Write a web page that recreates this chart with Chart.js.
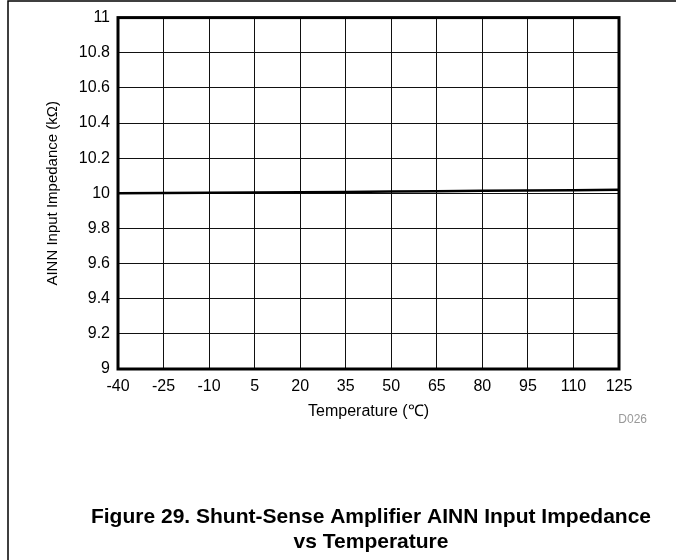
<!DOCTYPE html>
<html>
<head>
<meta charset="utf-8">
<script src="https://cdn.jsdelivr.net/npm/chart.js@4.4.1/dist/chart.umd.min.js"></script>
<style>
html,body{margin:0;padding:0;background:#fff}
#wrap{width:676px;height:560px;position:relative}
</style>
</head>
<body>
<div id="wrap"><canvas id="grafico" width="676" height="560"></canvas></div>
<script>
// temperatura (C) e impedancia (kOhm)
let temperaturas = [-40, -25, -10, 5, 20, 35, 50, 65, 80, 95, 110, 125]
let impedancias = [10.000, 10.001, 10.003, 10.004, 10.006, 10.008, 10.010, 10.012, 10.014, 10.016, 10.018, 10.020]
let ticksY = [9, 9.2, 9.4, 9.6, 9.8, 10, 10.2, 10.4, 10.6, 10.8, 11]
let ticksX = [-40, -25, -10, 5, 20, 35, 50, 65, 80, 95, 110, 125]

let fonte = "'Liberation Sans', Arial, sans-serif"

let pontos = temperaturas.map((t, i) => ({x: t, y: impedancias[i]}))

let moldura = {
  id: "moldura",
  afterDraw(chart){
    let ctx = chart.ctx
    let a = chart.chartArea
    ctx.save()
    // quadro da area do grafico
    ctx.strokeStyle = "#000"
    ctx.lineWidth = 3
    ctx.strokeRect(a.left, a.top, a.right - a.left, a.bottom - a.top)
    // borda da figura
    ctx.lineWidth = 1.5
    ctx.beginPath()
    ctx.moveTo(8, 560)
    ctx.lineTo(8, 1)
    ctx.lineTo(676, 1)
    ctx.stroke()
    // codigo da figura
    ctx.fillStyle = "#999"
    ctx.font = "12px " + fonte
    ctx.textAlign = "right"
    ctx.textBaseline = "middle"
    ctx.fillText("D026", 647, 420)
    // legenda
    ctx.fillStyle = "#000"
    ctx.font = "bold 21px " + fonte
    ctx.textAlign = "center"
    ctx.fillText("Figure 29. Shunt-Sense Amplifier AINN Input Impedance", 371, 517)
    ctx.fillText("vs Temperature", 371, 542)
    ctx.restore()
  }
}

new Chart(document.getElementById("grafico"), {
  type: "line",
  data: {
    datasets: [{
      label: "AINN",
      data: pontos,
      borderColor: "#000",
      borderWidth: 2.5,
      pointRadius: 0,
      tension: 0
    }]
  },
  options: {
    responsive: false,
    animation: false,
    layout: {padding: {left: 0, top: 15.5, right: 57, bottom: 131}},
    plugins: {legend: {display: false}, tooltip: {enabled: false}},
    scales: {
      x: {
        type: "linear",
        min: -40,
        max: 125,
        afterFit(axis){ axis.height = 60 },
        afterBuildTicks(axis){ axis.ticks = ticksX.map(v => ({value: v})) },
        grid: {color: "#111", lineWidth: 1, drawTicks: false},
        border: {display: false},
        ticks: {color: "#000", font: {family: fonte, size: 16}, padding: 8, maxRotation: 0, autoSkip: false},
        title: {display: true, text: "Temperature (℃)", color: "#000", font: {family: fonte, size: 16}, padding: {top: 0, bottom: 8}}
      },
      y: {
        min: 9,
        max: 11,
        afterFit(axis){ axis.width = 118 },
        afterBuildTicks(axis){ axis.ticks = ticksY.map(v => ({value: v})) },
        grid: {color: "#111", lineWidth: 1, drawTicks: false},
        border: {display: false},
        ticks: {color: "#000", font: {family: fonte, size: 16}, padding: 8,
          callback: v => String(Math.round(v * 10) / 10)},
        title: {display: true, text: "AINN Input Impedance (kΩ)", color: "#000", font: {family: fonte, size: 15}, padding: {top: 44, bottom: 0}}
      }
    }
  },
  plugins: [moldura]
})
</script>
</body>
</html>
